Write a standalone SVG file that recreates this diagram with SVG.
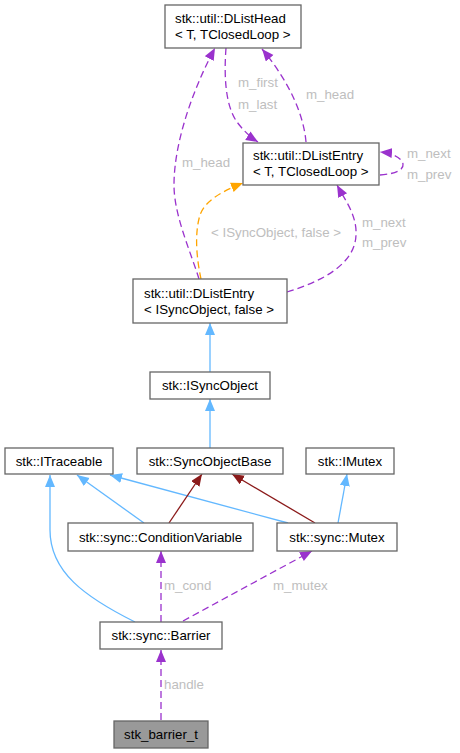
<svg xmlns="http://www.w3.org/2000/svg" width="460" height="753" viewBox="0 0 460 753">
<style>
text{font-family:"Liberation Sans",Arial,sans-serif;font-size:13.3px;fill:#000}
.c{text-anchor:middle}
.lbl{fill:#bebebe}
.box{fill:#fff;stroke:#666;stroke-width:1.3}
.cur{fill:#999;stroke:#666;stroke-width:1.3}
.e{fill:none;stroke-width:1.3}
.mem{stroke:#9a32cd;stroke-dasharray:7,4;marker-end:url(#ap)}
.inh{stroke:#63b8ff;marker-end:url(#ab)}
.red{stroke:#8b1a1a;marker-end:url(#ar)}
.tpl{stroke:#ffa500;stroke-dasharray:7,4;marker-end:url(#ao)}
</style>
<defs>
<marker id="ap" markerUnits="userSpaceOnUse" markerWidth="13" markerHeight="11" refX="12" refY="5" orient="auto"><path d="M0,0 L12,5 L0,10 z" fill="#9a32cd"/></marker>
<marker id="ab" markerUnits="userSpaceOnUse" markerWidth="13" markerHeight="11" refX="12" refY="5" orient="auto"><path d="M0,0 L12,5 L0,10 z" fill="#63b8ff"/></marker>
<marker id="ar" markerUnits="userSpaceOnUse" markerWidth="13" markerHeight="11" refX="12" refY="5" orient="auto"><path d="M0,0 L12,5 L0,10 z" fill="#8b1a1a"/></marker>
<marker id="ao" markerUnits="userSpaceOnUse" markerWidth="13" markerHeight="11" refX="12" refY="5" orient="auto"><path d="M0,0 L12,5 L0,10 z" fill="#ffa500"/></marker>
</defs>
<g id="edges">
<path class="e mem" d="M161,720 L161,650"/>
<path class="e mem" d="M161,622 L161,551"/>
<path class="e mem" d="M183,621 L312,551"/>
<path class="e inh" d="M135,622 C85,597 50,572 50,530 L50,475"/>
<path class="e inh" d="M144,523 L77,475"/>
<path class="e inh" d="M288,523 L110,475"/>
<path class="e red" d="M169,523 L202,474"/>
<path class="e red" d="M315,523 L232,474"/>
<path class="e inh" d="M338,523 L347,474"/>
<path class="e inh" d="M210,448 L210,399"/>
<path class="e inh" d="M210,372 L210,323"/>
<path class="e tpl" d="M201,279 C197,260 194,235 200,215 C205,200 225,190 243,183"/>
<path class="e mem" d="M287,292 C320,282 355,265 356,235 C357,215 345,200 337,185"/>
<path class="e mem" d="M199,279 C190,250 174,215 174,185 C174,140 195,85 215,48"/>
<path class="e mem" d="M226,48 C224,75 225,105 237,122 C243,130 250,137 258,142"/>
<path class="e mem" d="M306,142 C304,118 292,85 262,49"/>
<path class="e mem" d="M380,175 C395,174 404,170 403,164 C402,158 392,153 380,152"/>
<text class="lbl" x="238" y="87">m_first</text>
<text class="lbl" x="238" y="109">m_last</text>
<text class="lbl" x="306" y="99">m_head</text>
<text class="lbl" x="407" y="158">m_next</text>
<text class="lbl" x="407" y="179">m_prev</text>
<text class="lbl" x="182" y="167">m_head</text>
<text class="lbl" x="211" y="237">&lt; ISyncObject, false &gt;</text>
<text class="lbl" x="362" y="227">m_next</text>
<text class="lbl" x="362" y="247">m_prev</text>
<text class="lbl" x="164" y="590">m_cond</text>
<text class="lbl" x="273" y="590">m_mutex</text>
<text class="lbl" x="164" y="689">handle</text>
</g>
<g id="DListHead">
<rect class="box" x="165" y="5" width="136" height="43"/>
<text x="175" y="23">stk::util::DListHead</text>
<text x="175" y="39">&lt; T, TClosedLoop &gt;</text>
</g>
<g id="DListEntryT">
<rect class="box" x="243" y="143" width="136" height="42"/>
<text x="253" y="160">stk::util::DListEntry</text>
<text x="253" y="176">&lt; T, TClosedLoop &gt;</text>
</g>
<g id="DListEntrySync">
<rect class="box" x="133" y="279" width="154" height="44"/>
<text x="144" y="298">stk::util::DListEntry</text>
<text x="144" y="314">&lt; ISyncObject, false &gt;</text>
</g>
<g id="ISyncObject">
<rect class="box" x="150" y="372" width="120" height="27"/>
<text class="c" x="210" y="390">stk::ISyncObject</text>
</g>
<g id="ITraceable">
<rect class="box" x="5" y="448" width="108" height="26"/>
<text class="c" x="59" y="466">stk::ITraceable</text>
</g>
<g id="SyncObjectBase">
<rect class="box" x="137" y="448" width="146" height="26"/>
<text class="c" x="210" y="466">stk::SyncObjectBase</text>
</g>
<g id="IMutex">
<rect class="box" x="306" y="448" width="88" height="26"/>
<text class="c" x="350" y="466">stk::IMutex</text>
</g>
<g id="ConditionVariable">
<rect class="box" x="68" y="523" width="185" height="28"/>
<text class="c" x="160.5" y="542">stk::sync::ConditionVariable</text>
</g>
<g id="Mutex">
<rect class="box" x="277" y="523" width="120" height="28"/>
<text class="c" x="337" y="542">stk::sync::Mutex</text>
</g>
<g id="Barrier">
<rect class="box" x="100" y="622" width="122" height="27"/>
<text class="c" x="161" y="640">stk::sync::Barrier</text>
</g>
<g id="stk_barrier_t">
<rect class="cur" x="114" y="721" width="94" height="27"/>
<text class="c" x="161" y="739">stk_barrier_t</text>
</g>
</svg>
